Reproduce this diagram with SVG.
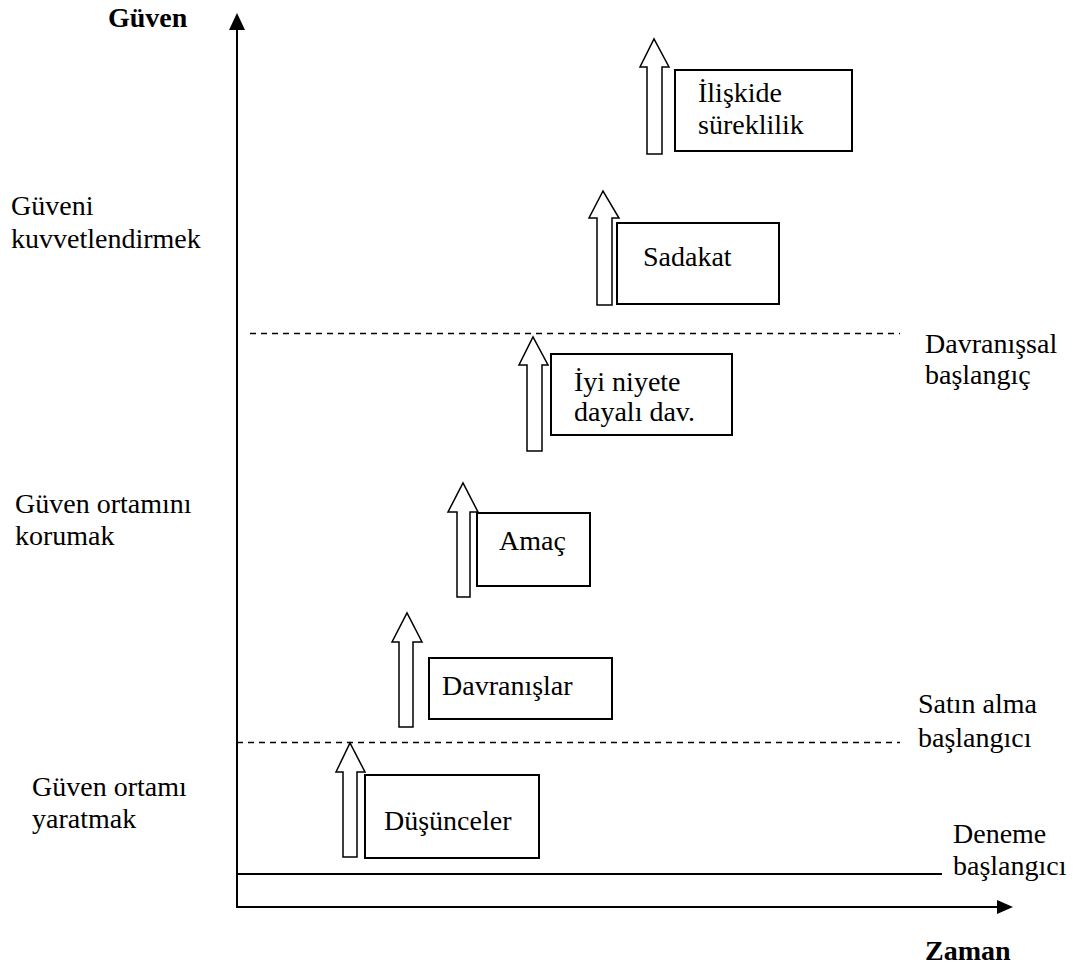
<svg xmlns="http://www.w3.org/2000/svg" width="1076" height="969" viewBox="0 0 1076 969">
<defs>
<style>
text{font-family:"Liberation Serif","Times New Roman",serif;font-size:28px;fill:#000}
.b{font-weight:bold}
.box{fill:#fff;stroke:#000;stroke-width:2}
.arr{fill:#fff;stroke:#000;stroke-width:1.5;stroke-linejoin:miter}
.dash{stroke:#000;stroke-width:1.5;stroke-dasharray:6 5;fill:none}
.ax{stroke:#000;stroke-width:2;fill:none}
</style>
</defs>
<rect width="1076" height="969" fill="#fff"/>
<g id="axes">
<line class="ax" x1="237" y1="907" x2="237" y2="26"/>
<polygon points="237,13 229,30 245,30" fill="#000"/>
<line class="ax" x1="236" y1="907" x2="1000" y2="907"/>
<polygon points="1013,907 997,900 997,914" fill="#000"/>
<text class="b" x="108" y="27">Güven</text>
<text class="b" x="925" y="960">Zaman</text>
</g>
<g id="connectors">
<line class="dash" x1="250" y1="333.5" x2="900" y2="333.5"/>
<line class="dash" x1="237" y1="742.5" x2="900" y2="742.5"/>
<line class="ax" x1="237" y1="874" x2="942" y2="874"/>
</g>
<g id="left-labels">
<text x="11" y="215">Güveni</text>
<text x="11" y="248">kuvvetlendirmek</text>
<text x="15" y="513">Güven ortamını</text>
<text x="15" y="545">korumak</text>
<text x="32" y="796">Güven ortamı</text>
<text x="32" y="828">yaratmak</text>
</g>
<g id="right-labels">
<text x="925" y="353">Davranışsal</text>
<text x="925" y="384">başlangıç</text>
<text x="918" y="713">Satın alma</text>
<text x="918" y="747">başlangıcı</text>
<text x="953" y="843">Deneme</text>
<text x="953" y="875">başlangıcı</text>
</g>
<g id="node-iliskide">
<polygon class="arr" points="647,154 647,67 640,67 654,39 669,67 662,67 662,154"/>
<rect class="box" x="675" y="70" width="177" height="81"/>
<text x="698" y="102">İlişkide</text>
<text x="698" y="134">süreklilik</text>
</g>
<g id="node-sadakat">
<polygon class="arr" points="597,305 597,218 589,218 603,191 619,218 612,218 612,305"/>
<rect class="box" x="617" y="223" width="162" height="81"/>
<text x="643" y="266">Sadakat</text>
</g>
<g id="node-iyiniyet">
<polygon class="arr" points="527,451 527,365 519,365 533,337 548,365 542,365 542,451"/>
<rect class="box" x="551" y="354" width="181" height="81"/>
<text x="574" y="391">İyi niyete</text>
<text x="574" y="421">dayalı dav.</text>
</g>
<g id="node-amac">
<polygon class="arr" points="457,597 457,512 448,512 463,483 478,512 470,512 470,597"/>
<rect class="box" x="477" y="513" width="113" height="73"/>
<text x="499" y="550">Amaç</text>
</g>
<g id="node-davranislar">
<polygon class="arr" points="399,727 399,642 392,642 407,613 422,642 413,642 413,727"/>
<rect class="box" x="429" y="658" width="183" height="61"/>
<text x="442" y="695">Davranışlar</text>
</g>
<g id="node-dusunceler">
<polygon class="arr" points="343,857 343,772 336,772 350,743 365,772 357,772 357,857"/>
<rect class="box" x="365" y="775" width="174" height="83"/>
<text x="384" y="830">Düşünceler</text>
</g>
</svg>
